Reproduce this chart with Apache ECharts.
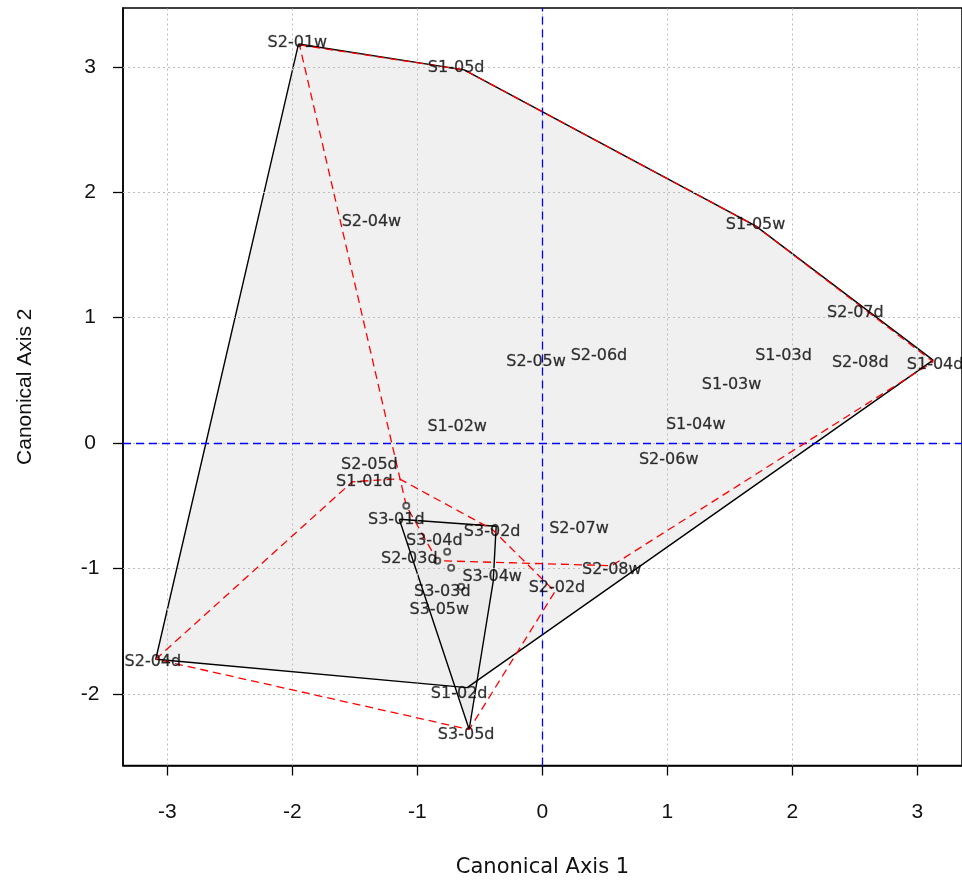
<!DOCTYPE html>
<html>
<head>
<meta charset="utf-8">
<script src="https://cdn.jsdelivr.net/npm/echarts@6/dist/echarts.min.js"></script>
<style>
html,body{margin:0;padding:0;background:#fff;}
#chart{width:962px;height:883px;}
</style>
</head>
<body>
<div id="chart"></div>
<script>
// ---- data ----
const xTicks = [-3, -2, -1, 0, 1, 2, 3];
const yTicks = [-2, -1, 0, 1, 2, 3];

const labelNames = ['S2-01w','S1-05d','S2-04w','S1-05w','S2-07d','S1-03d','S2-08d','S1-04d','S2-05w','S2-06d',
  'S1-03w','S1-02w','S1-04w','S2-06w','S2-05d','S1-01d','S3-01d','S3-02d','S2-07w','S3-04d',
  'S2-03d','S2-08w','S3-04w','S3-03d','S2-02d','S3-05w','S2-04d','S1-02d','S3-05d'];
const labelX = [-1.959,-0.689,-1.367,1.706,2.504,1.929,2.543,3.142,-0.050,0.453,
  1.514,-0.681,1.227,1.011,-1.383,-1.423,-1.168,-0.401,0.293,-0.864,
  -1.064,0.556,-0.401,-0.800,0.117,-0.824,-3.115,-0.665,-0.609];
const labelY = [3.190,2.990,1.763,1.739,1.038,0.696,0.640,0.624,0.648,0.696,
  0.465,0.130,0.146,-0.133,-0.172,-0.308,-0.616,-0.712,-0.688,-0.783,
  -0.927,-1.014,-1.065,-1.185,-1.153,-1.328,-1.743,-2.000,-2.329];

const pointX = [-1.088,-0.840,-0.761,-0.729,-0.649];
const pointY = [-0.500,-0.938,-0.866,-0.994,-1.145];

// hulls (solid black)
const hullAX = [-1.950,-0.625,1.706,3.126,-0.601,-3.092];
const hullAY = [3.182,2.975,1.731,0.661,-1.950,-1.724];
const hullBX = [-1.144,-0.369,-0.393,-0.585];
const hullBY = [-0.608,-0.664,-1.105,-2.284];
// hulls (dashed red)
const hullCX = [-1.942,-0.625,1.706,3.126,0.556,-0.840,-1.088];
const hullCY = [3.174,2.975,1.731,0.648,-0.978,-0.938,-0.500];
const hullDX = [-3.092,-1.520,-1.144,-0.401,0.101,-0.585];
const hullDY = [-1.724,-0.309,-0.285,-0.688,-1.185,-2.284];

const refX = [0];
const refY = [0];

// ---- build ----
function closed(xs, ys){
  const d = xs.map((x,i)=>[x, ys[i]]);
  d.push([xs[0], ys[0]]);
  return d;
}
const fillHulls = [[hullAX,hullAY],[hullBX,hullBY]];
const fillColors = ['#f0f0f0','#ececec'];

const FONT = 'Liberation Sans';
const WFONT = 'DejaVu Sans';
const chart = echarts.init(document.getElementById('chart'), null, {renderer:'canvas'});

const series = [
  {
    type:'custom', z:1, silent:true,
    data: fillHulls.map((h,i)=>[i]),
    renderItem: function(params, api){
      const k = api.value(0);
      const h = fillHulls[k];
      const pts = h[0].map((x,i)=>api.coord([x, h[1][i]]));
      return {type:'polygon', shape:{points:pts}, style:{fill:fillColors[k], stroke:null}};
    }
  },
  {
    type:'line', z:2, silent:true, data:[], symbol:'none',
    markLine:{
      silent:true, symbol:['none','none'], label:{show:false},
      lineStyle:{color:'#bdbdbd', type:[2,3], width:1},
      data: xTicks.map(v=>({xAxis:v})).concat(yTicks.map(v=>({yAxis:v})))
    }
  },
  {
    type:'line', z:3, silent:true, data:[], symbol:'none',
    markLine:{
      silent:true, symbol:['none','none'], label:{show:false},
      lineStyle:{color:'#0000ff', type:[8,5], width:1.3},
      data: refX.map(v=>({xAxis:v})).concat(refY.map(v=>({yAxis:v})))
    }
  },
  {type:'line', z:4, silent:true, symbol:'none', data:closed(hullAX,hullAY), lineStyle:{color:'#000', width:1.4}},
  {type:'line', z:4, silent:true, symbol:'none', data:closed(hullBX,hullBY), lineStyle:{color:'#000', width:1.4}},
  {type:'line', z:5, silent:true, symbol:'none', data:closed(hullCX,hullCY), lineStyle:{color:'#ff0000', width:1.3, type:[8,5]}},
  {type:'line', z:5, silent:true, symbol:'none', data:closed(hullDX,hullDY), lineStyle:{color:'#ff0000', width:1.3, type:[8,5]}},
  {type:'scatter', z:6, silent:true, symbol:'emptyCircle', symbolSize:6,
    itemStyle:{color:'#333', borderColor:'#333', borderWidth:1},
    data: pointX.map((x,i)=>[x, pointY[i]])},
  {type:'scatter', z:7, silent:true, symbol:'circle', symbolSize:1,
    itemStyle:{color:'rgba(0,0,0,0)'},
    labelLayout:{hideOverlap:false},
    label:{show:true, position:'inside', formatter:p=>p.name, color:'#000', fontSize:16, fontFamily:WFONT,
      textBorderColor:'rgba(0,0,0,0.6)', textBorderWidth:0.4},
    data: labelNames.map((n,i)=>({name:n, value:[labelX[i], labelY[i]]}))}
];

chart.setOption({
  animation:false,
  backgroundColor:'#fff',
  grid:{left:123, top:8, right:-2, bottom:117, show:true, borderColor:'#000', borderWidth:1.5, backgroundColor:'transparent'},
  xAxis:{
    type:'value', min:-3.354, max:3.357, position:'bottom',
    axisLine:{show:true, onZero:false, lineStyle:{color:'#000', width:1.5}},
    splitLine:{show:false},
    axisTick:{show:true, customValues:xTicks, length:10, inside:false, lineStyle:{color:'#000', width:1.3}},
    axisLabel:{customValues:xTicks, margin:36, fontSize:21, fontFamily:FONT, color:'#111', formatter:v=>String(v)},
    name:'Canonical Axis 1', nameLocation:'middle', nameGap:102,
    nameTextStyle:{fontSize:21, fontFamily:WFONT, color:'#111', verticalAlign:'middle'}
  },
  yAxis:{
    type:'value', min:-2.571, max:3.4685, position:'left',
    axisLine:{show:true, onZero:false, lineStyle:{color:'#000', width:1.5}},
    splitLine:{show:false},
    axisTick:{show:true, customValues:yTicks, length:10, inside:false, lineStyle:{color:'#000', width:1.3}},
    axisLabel:{customValues:yTicks, margin:33, align:'center', fontSize:21, fontFamily:FONT, color:'#111', formatter:v=>String(v)},
    name:'Canonical Axis 2', nameLocation:'middle', nameGap:98, nameRotate:90,
    nameTextStyle:{fontSize:21, fontFamily:FONT, color:'#111', verticalAlign:'middle'}
  },
  series: series
});
</script>
</body>
</html>
